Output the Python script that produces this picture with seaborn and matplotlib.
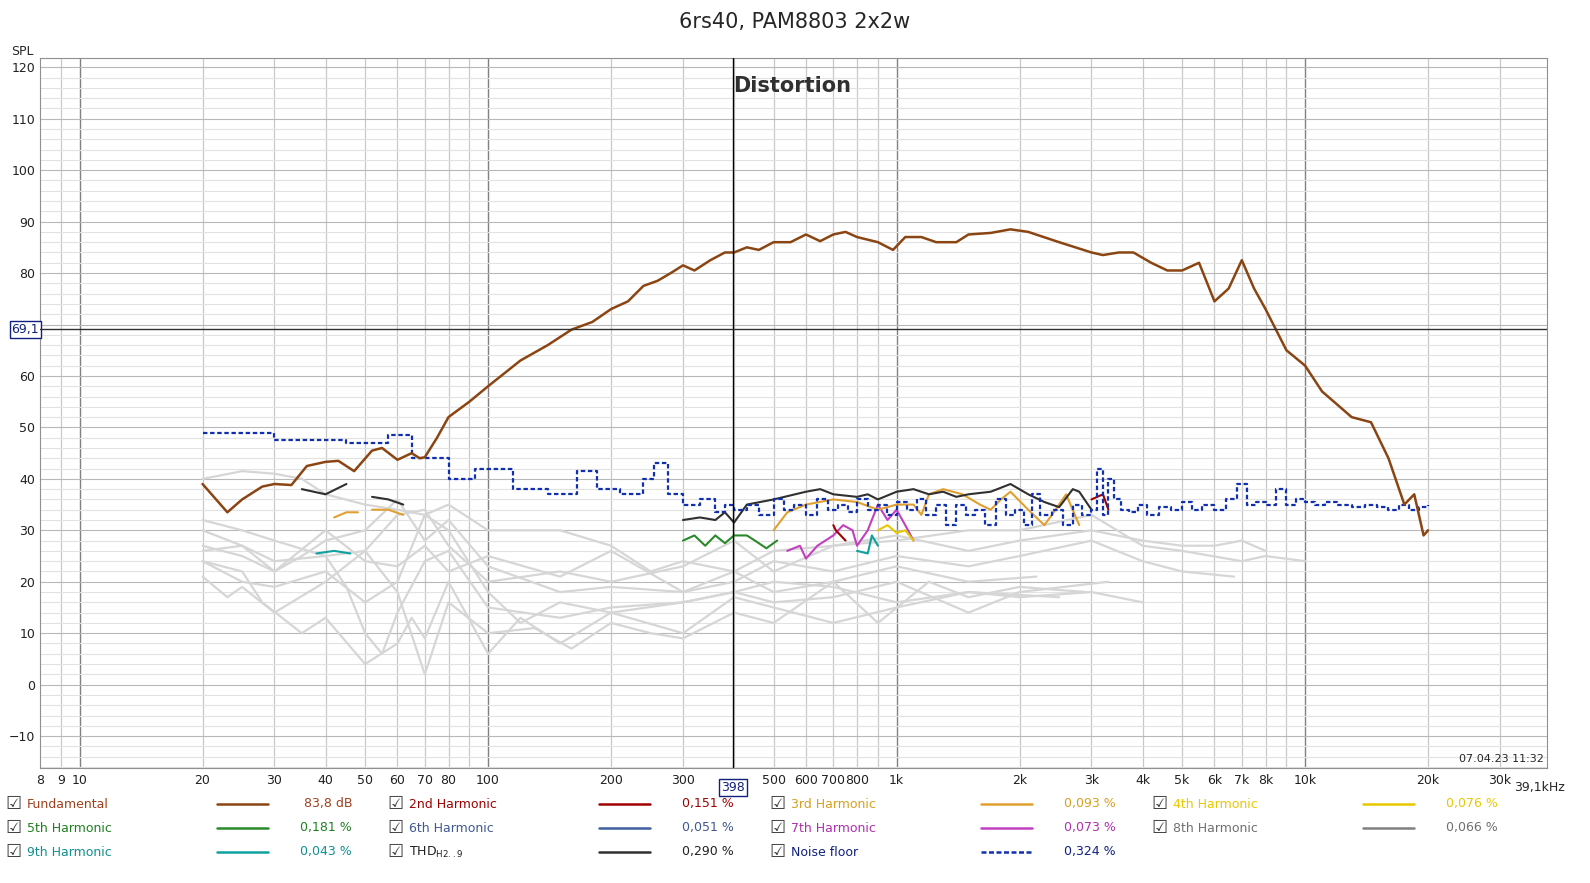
import numpy as np
import matplotlib
matplotlib.use("Agg")
import matplotlib.pyplot as plt
import seaborn as sns
from matplotlib.ticker import FixedLocator, NullFormatter

# ---- data ----
fund_f = [20, 23, 25, 28, 30, 33, 36, 40, 43, 47, 52, 55, 60, 65, 68, 70, 75, 80, 90, 100, 120, 140, 160, 180,
          200, 220, 240, 260, 280, 300, 320, 350, 380, 400, 430, 460, 500, 550, 600, 650, 700, 750, 800, 900,
          980, 1050, 1150, 1250, 1400, 1500, 1700, 1900, 2100, 2500, 3000, 3200, 3500, 3800, 4200, 4600, 5000,
          5500, 6000, 6500, 7000, 7500, 8000, 9000, 10000, 11000, 13000, 14500, 16000, 17500, 18500, 19500, 20000]
fund_db = [39, 33.5, 36, 38.5, 39, 38.8, 42.5, 43.3, 43.5, 41.5, 45.5, 46, 43.7, 45, 44, 44.2, 48, 52, 55, 58,
           63, 66, 69, 70.5, 73, 74.5, 77.5, 78.5, 80, 81.5, 80.5, 82.5, 84, 84, 85, 84.5, 86, 86, 87.5, 86.2,
           87.5, 88, 87, 86, 84.5, 87, 87, 86, 86, 87.5, 87.8, 88.5, 88, 86, 84, 83.5, 84, 84, 82, 80.5, 80.5,
           82, 74.5, 77, 82.5, 77, 73, 65, 62, 57, 52, 51, 44, 35, 37, 29, 30]

noise_f = [20, 30, 45, 57, 65, 80, 93, 115, 140, 165, 185, 210, 240, 255, 275, 300, 330, 360, 380, 400, 430,
           460, 500, 530, 560, 600, 640, 680, 720, 760, 800, 850, 900, 950, 1000, 1060, 1120, 1180, 1250, 1320,
           1400, 1480, 1560, 1650, 1750, 1850, 1950, 2050, 2150, 2250, 2400, 2550, 2700, 2850, 3000, 3100, 3200,
           3300, 3400, 3550, 3700, 3900, 4100, 4400, 4700, 5000, 5300, 5600, 6000, 6400, 6800, 7200, 7600, 8000,
           8500, 9000, 9500, 10000, 10600, 11200, 12000, 13000, 14000, 15000, 16000, 17000, 18000, 19000, 20000]
noise_db = [49, 47.5, 47, 48.5, 44, 40, 42, 38, 37, 41.5, 38, 37, 40, 43, 37, 35, 36, 33.5, 35, 34, 35, 33,
            36, 34, 35, 33, 36, 34, 35, 33.5, 36, 34, 35, 33, 35.5, 34, 36, 33, 35, 31, 35, 33, 34, 31, 36, 33,
            34, 31, 37, 33, 34, 31, 35, 33, 34, 42, 33, 40, 36, 34, 33.5, 35, 33, 34.5, 34, 35.5, 34, 35, 34,
            36, 39, 35, 35.5, 35, 38, 35, 36, 35.5, 35, 35.5, 35, 34.5, 35, 34.5, 34, 35, 34, 34.5, 35]

thd_f = [35, 40, 45, 52, 57, 62, 300, 330, 360, 380, 400, 430, 500, 600, 650, 700, 800, 850, 900, 1000, 1100,
         1200, 1300, 1400, 1500, 1700, 1900, 2100, 2300, 2500, 2700, 2800, 3000]
thd_db = [38, 37, 39, 36.5, 36, 35, 32, 32.5, 32, 33.5, 31.5, 35, 36, 37.5, 38, 37, 36.5, 37, 36, 37.5, 38,
          37, 37.5, 36.5, 37, 37.5, 39, 37, 35.5, 34.5, 38, 37.5, 34]
h3_f = [42, 45, 48, 52, 57, 62, 500, 540, 600, 700, 800, 900, 1000, 1100, 1150, 1200, 1300, 1450, 1600, 1700,
        1800, 1900, 2100, 2300, 2400, 2600, 2800]
h3_db = [32.5, 33.5, 33.5, 34, 34, 33, 30, 33.5, 35, 36, 35.5, 34, 35, 35, 33, 37, 38, 37, 35, 34, 36, 37.5,
         34, 31, 33, 37, 31]
h7_f = [540, 580, 600, 640, 700, 740, 780, 800, 850, 900, 950, 1000, 1050, 1100]
h7_db = [26, 27, 24.5, 27, 29, 31, 30, 27, 30, 35, 32, 34, 31, 28]
h5_f = [300, 320, 340, 360, 380, 400, 430, 450, 480, 510]
h5_db = [28, 29, 27, 29, 27.5, 29, 29, 28, 26.5, 28]
h9_f = [38, 42, 46, 800, 850, 870, 900]
h9_db = [25.5, 26, 25.5, 26, 25.5, 29, 27]
h2_f = [700, 710, 750, 3000, 3200, 3300]
h2_db = [31, 30, 28, 36, 37, 34]
h4_f = [900, 950, 1000, 1050, 1100]
h4_db = [30, 31, 29.5, 30, 28]

grey_f = [
    [20, 25, 30, 35, 40, 50, 60, 70, 80, 100, 150, 200, 250, 300, 400, 500, 700, 1000, 1500, 2000, 3000, 4000, 5000, 7000, 8000, 10000],
    [20, 25, 30, 40, 50, 60, 70, 80, 100, 150, 200, 300, 400, 500, 700, 1000, 1500, 2000, 3000, 4000, 5000, 6000, 7000, 8000],
    [20, 25, 30, 35, 40, 50, 60, 70, 80, 100, 150, 200, 300, 400, 500, 700, 1000, 1500, 2000, 3000, 4000, 5000, 6700],
    [20, 25, 30, 40, 50, 60, 70, 80, 100, 120, 150, 200, 300, 400, 500, 700, 1000, 1500, 2000, 3000, 4000],
    [20, 25, 30, 40, 45, 50, 55, 60, 70, 80, 100, 150, 200, 300, 400, 500, 700, 1000, 1500, 2000, 3300],
    [20, 23, 25, 30, 40, 50, 60, 70, 80, 100, 130, 160, 200, 250, 300, 400, 500, 700, 900, 1200, 1500, 2000, 2900],
    [20, 25, 28, 35, 40, 50, 60, 65, 70, 80, 100, 120, 150, 200, 300, 400, 500, 700, 1000, 1500, 2500],
    [20, 25, 30, 40, 50, 60, 70, 80, 100, 150, 200, 300, 400, 500, 700, 1000, 1500, 2200],
]
grey_db = [
    [40, 41.5, 41, 40, 37, 35, 34, 33, 35, 30, 30, 27, 22, 24, 22, 26, 27, 28, 30, 30, 33, 27, 26, 24, 25, 24],
    [32, 30, 28, 25, 26, 33, 34, 27, 20, 22, 20, 23, 28, 22, 27, 29, 26, 28, 30, 28, 27, 27, 28, 26],
    [27, 25, 22, 25, 28, 30, 36, 28, 32, 23, 18, 19, 18, 20, 24, 22, 25, 23, 25, 28, 24, 22, 21],
    [24, 20, 19, 22, 16, 20, 33, 30, 18, 12, 16, 14, 16, 18, 20, 19, 16, 18, 17, 18, 16],
    [26, 27, 24, 25, 19, 10, 6, 14, 24, 26, 15, 13, 15, 16, 18, 16, 17, 20, 14, 18, 20],
    [21, 17, 19, 14, 20, 26, 18, 2, 16, 10, 11, 7, 12, 10, 9, 14, 12, 20, 12, 20, 17, 19, 18],
    [24, 22, 16, 10, 13, 4, 8, 13, 9, 20, 6, 13, 8, 14, 10, 17, 15, 12, 15, 18, 17],
    [30, 27, 22, 30, 24, 23, 27, 22, 25, 21, 26, 18, 22, 18, 20, 23, 20, 21],
]

xtick_vals = [8, 9, 10, 20, 30, 40, 50, 60, 70, 80, 100, 200, 300, 500, 600, 700, 800, 1000, 2000, 3000,
              4000, 5000, 6000, 7000, 8000, 10000, 20000, 30000]
xtick_labels = ["8", "9", "10", "20", "30", "40", "50", "60", "70", "80", "100", "200", "300", "500", "600",
                "700", "800", "1k", "2k", "3k", "4k", "5k", "6k", "7k", "8k", "10k", "20k", "30k"]
yticks = [-10, 0, 10, 20, 30, 40, 50, 60, 80, 90, 100, 110, 120]

legend_rows = [
    [("Fundamental", "#a0401c", "#8b4513", "-", "83,8 dB"), ("2nd Harmonic", "#a00000", "#a00000", "-", "0,151 %"),
     ("3rd Harmonic", "#d8a020", "#e0a030", "-", "0,093 %"), ("4th Harmonic", "#e8c800", "#e8c800", "-", "0,076 %")],
    [("5th Harmonic", "#208020", "#2a8a2a", "-", "0,181 %"), ("6th Harmonic", "#405890", "#4060a0", "-", "0,051 %"),
     ("7th Harmonic", "#b030b0", "#c040c0", "-", "0,073 %"), ("8th Harmonic", "#707070", "#808080", "-", "0,066 %")],
    [("9th Harmonic", "#109090", "#10a0a0", "-", "0,043 %"), ("THD$_{\\mathregular{H2..9}}$", "#202020", "#303030", "-", "0,290 %"),
     ("Noise floor", "#102080", "#1030b0", "--", "0,324 %")],
]

# ---- figure ----
sns.set_style("white")
plt.rcParams["font.family"] = "DejaVu Sans"
fig = plt.figure(figsize=(15.9, 8.83), dpi=100)
ax = fig.add_axes([40 / 1590, 1 - 768 / 883, 1507 / 1590, 710 / 883])
ax.set_xscale("log")
xmin, xmax = 8.15, 39100
ymin, ymax = -16.2, 121.8
ax.set_xlim(xmin, xmax)
ax.set_ylim(ymin, ymax)

# grid
minor_x = [m * 10 ** d for d in range(0, 5) for m in range(2, 10) if xmin < m * 10 ** d < xmax]
for xv in minor_x:
    ax.axvline(xv, color="#c8c8c8", lw=0.9, zorder=0)
for xv in [10, 100, 1000, 10000]:
    ax.axvline(xv, color="#808080", lw=1.0, zorder=0)
for yv in np.arange(-16, 122, 2):
    ax.axhline(yv, color="#e2e2e2" if yv % 10 else "#b8b8b8", lw=0.8, zorder=0)

for gf, gd in zip(grey_f, grey_db):
    sns.lineplot(x=gf, y=gd, ax=ax, color="#d6d6d6", lw=1.6, sort=False, zorder=1)

sns.lineplot(x=h5_f, y=h5_db, ax=ax, color="#2a8a2a", lw=1.5, sort=False, zorder=3)
sns.lineplot(x=h7_f, y=h7_db, ax=ax, color="#c040c0", lw=1.5, sort=False, zorder=3)
sns.lineplot(x=h4_f, y=h4_db, ax=ax, color="#e8c800", lw=1.5, sort=False, zorder=3)
for seg in [(0, 3), (3, 7)]:
    sns.lineplot(x=h9_f[seg[0]:seg[1]], y=h9_db[seg[0]:seg[1]], ax=ax, color="#10a0a0", lw=1.5, sort=False, zorder=3)
for seg in [(0, 3), (3, 6)]:
    sns.lineplot(x=h2_f[seg[0]:seg[1]], y=h2_db[seg[0]:seg[1]], ax=ax, color="#a00000", lw=1.5, sort=False, zorder=3)
for seg in [(0, 3), (3, 6), (6, len(h3_f))]:
    sns.lineplot(x=h3_f[seg[0]:seg[1]], y=h3_db[seg[0]:seg[1]], ax=ax, color="#e0a030", lw=1.5, sort=False, zorder=3)
for seg in [(0, 3), (3, 6), (6, len(thd_f))]:
    sns.lineplot(x=thd_f[seg[0]:seg[1]], y=thd_db[seg[0]:seg[1]], ax=ax, color="#303030", lw=1.5, sort=False, zorder=3)

ax.plot(noise_f, noise_db, color="#1030b0", lw=1.6, ls=(0, (2, 1.2)), drawstyle="steps-post", zorder=4)
sns.lineplot(x=fund_f, y=fund_db, ax=ax, color="#8b4513", lw=1.8, sort=False, zorder=5)

# cursor
ax.axvline(398, color="#000000", lw=1.0, zorder=6)
ax.axhline(69.1, color="#303030", lw=1.0, zorder=6)

# axes formatting
ax.xaxis.set_major_locator(FixedLocator(xtick_vals))
ax.xaxis.set_minor_formatter(NullFormatter())
ax.set_xticks(xtick_vals, xtick_labels)
ax.set_yticks(yticks)
ax.tick_params(axis="both", length=0, labelsize=9, colors="#202020")
ax.tick_params(axis="x", pad=4)
for s in ax.spines.values():
    s.set_color("#909090")
ax.text(-0.012, 1.0, "SPL", transform=ax.transAxes, ha="center", va="bottom", fontsize=9)
ax.text(1.012, -0.018, "39,1kHz", transform=ax.transAxes, ha="right", va="top", fontsize=9)
ax.text(0.998, 0.005, "07.04.23 11:32", transform=ax.transAxes, ha="right", va="bottom", fontsize=8)
ax.text(398, 0.975, "Distortion", transform=ax.get_xaxis_transform(), ha="left", va="top",
        fontsize=15, fontweight="bold", color="#303030")
ax.text(398, -0.018, "398", transform=ax.get_xaxis_transform(), ha="center", va="top", fontsize=9,
        color="#102080", bbox=dict(boxstyle="square,pad=0.15", fc="white", ec="#102080"))
ax.text(-0.0005, 69.1, "69,1", transform=ax.get_yaxis_transform(), ha="right", va="center", fontsize=9,
        color="#102080", bbox=dict(boxstyle="square,pad=0.15", fc="white", ec="#102080"))
fig.text(0.5, 1 - 22 / 883, "6rs40, PAM8803 2x2w", ha="center", va="center", fontsize=15)

# legend
col_x = [13, 395, 777, 1159]
row_y = [804, 828, 852]
for r, row in enumerate(legend_rows):
    yf = 1 - row_y[r] / 883
    for c, (name, tcol, lcol, ls, val) in enumerate(row):
        x0 = col_x[c]
        fig.text(x0 / 1590, yf, "\u2611", ha="center", va="center", fontsize=13, color="#404040",
                 family="DejaVu Sans")
        fig.text((x0 + 14) / 1590, yf, name, ha="left", va="center", fontsize=9, color=tcol)
        fig.add_artist(plt.Line2D([(x0 + 204) / 1590, (x0 + 255) / 1590], [yf, yf], color=lcol, lw=1.8,
                                  ls=(0, (2, 1)) if ls == "--" else "-"))
        fig.text((x0 + 339) / 1590, yf, val, ha="right", va="center", fontsize=9, color=tcol)

fig.savefig("out.png", dpi=100)
